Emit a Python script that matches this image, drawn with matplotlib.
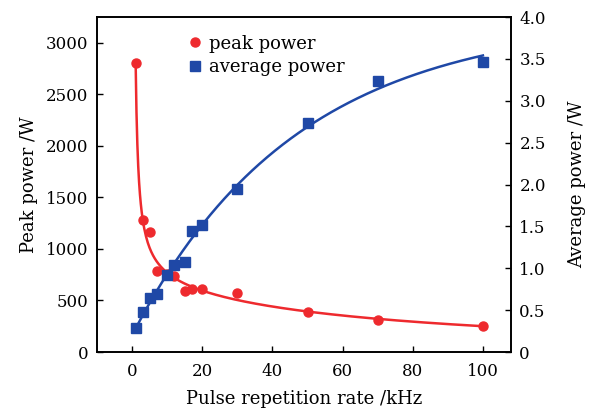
import numpy as np
import matplotlib
matplotlib.use('Agg')
import matplotlib.pyplot as plt

# Data
rate_khz = [1, 3, 5, 7, 10, 12, 15, 17, 20, 30, 50, 70, 100]
peak_power_w = [2800, 1280, 1165, 790, 760, 735, 595, 610, 615, 575, 385, 315, 250]
avg_power_w = [0.29, 0.48, 0.64, 0.69, 0.92, 1.04, 1.08, 1.45, 1.52, 1.95, 2.74, 3.24, 3.46]

left_ticks = [0, 500, 1000, 1500, 2000, 2500, 3000]
right_ticks = [0, 0.5, 1.0, 1.5, 2.0, 2.5, 3.0, 3.5, 4.0]
right_tick_labels = ['0', '0.5', '1.0', '1.5', '2.0', '2.5', '3.0', '3.5', '4.0']
x_ticks = [0, 20, 40, 60, 80, 100]

red = '#ee2a2e'
blue = '#1f48a6'

plt.rcParams['font.family'] = ['DejaVu Serif']
fs = 12
lfs = 13

x = np.array(rate_khz, dtype=float)
xs = np.linspace(1, 100, 400)

# peak power: polynomial fit in log-log space
red_coef = np.polyfit(np.log(x), np.log(peak_power_w), 3)
red_fit = np.exp(np.polyval(red_coef, np.log(xs)))

# average power: saturating exponential a*(1-exp(-x/b))+c, b by grid search
best = None
for b in np.linspace(10, 200, 400):
    A = np.column_stack([1 - np.exp(-x / b), np.ones_like(x)])
    sol, res, _, _ = np.linalg.lstsq(A, avg_power_w, rcond=None)
    err = np.sum((A @ sol - avg_power_w) ** 2)
    if best is None or err < best[0]:
        best = (err, b, sol)
_, b_fit, (a_fit, c_fit) = best
blue_fit = a_fit * (1 - np.exp(-xs / b_fit)) + c_fit

fig = plt.figure(figsize=(5.93, 4.12), dpi=100)
ax = fig.add_axes([0.1636, 0.1456, 0.6981, 0.8131])
ax2 = ax.twinx()

ax.plot(xs, red_fit, color=red, lw=1.8, zorder=2)
p1, = ax.plot(rate_khz, peak_power_w, 'o', color=red, ms=6.5, zorder=3, label='peak power')
ax2.plot(xs, blue_fit, color=blue, lw=1.8, zorder=2)
p2, = ax2.plot(rate_khz, avg_power_w, 's', color=blue, ms=6.5, zorder=3, label='average power')

ax.set_xlim(-10, 108)
ax.set_ylim(0, 3250)
ax2.set_ylim(0, 4.0)

ax.set_xticks(x_ticks)
ax.set_yticks(left_ticks)
ax2.set_yticks(right_ticks)
ax2.set_yticklabels(right_tick_labels)

for a in (ax, ax2):
    a.tick_params(direction='in', length=4, width=1, labelsize=fs)
    for s in a.spines.values():
        s.set_linewidth(1.2)
ax.tick_params(axis='x', pad=8)
ax.tick_params(axis='y', pad=6)
ax2.tick_params(axis='y', pad=6)

ax.set_xlabel('Pulse repetition rate /kHz', fontsize=lfs, labelpad=7)
ax.set_ylabel('Peak power /W', fontsize=lfs, labelpad=6)
ax2.set_ylabel('Average power /W', fontsize=lfs, labelpad=16)

ax2.legend(handles=[p1, p2], loc='upper left', bbox_to_anchor=(0.18, 0.99),
           frameon=False, handletextpad=0.3, borderaxespad=0.4,
           labelspacing=0.3, fontsize=lfs, handlelength=1.0)

plt.savefig('out.png', dpi=100)
